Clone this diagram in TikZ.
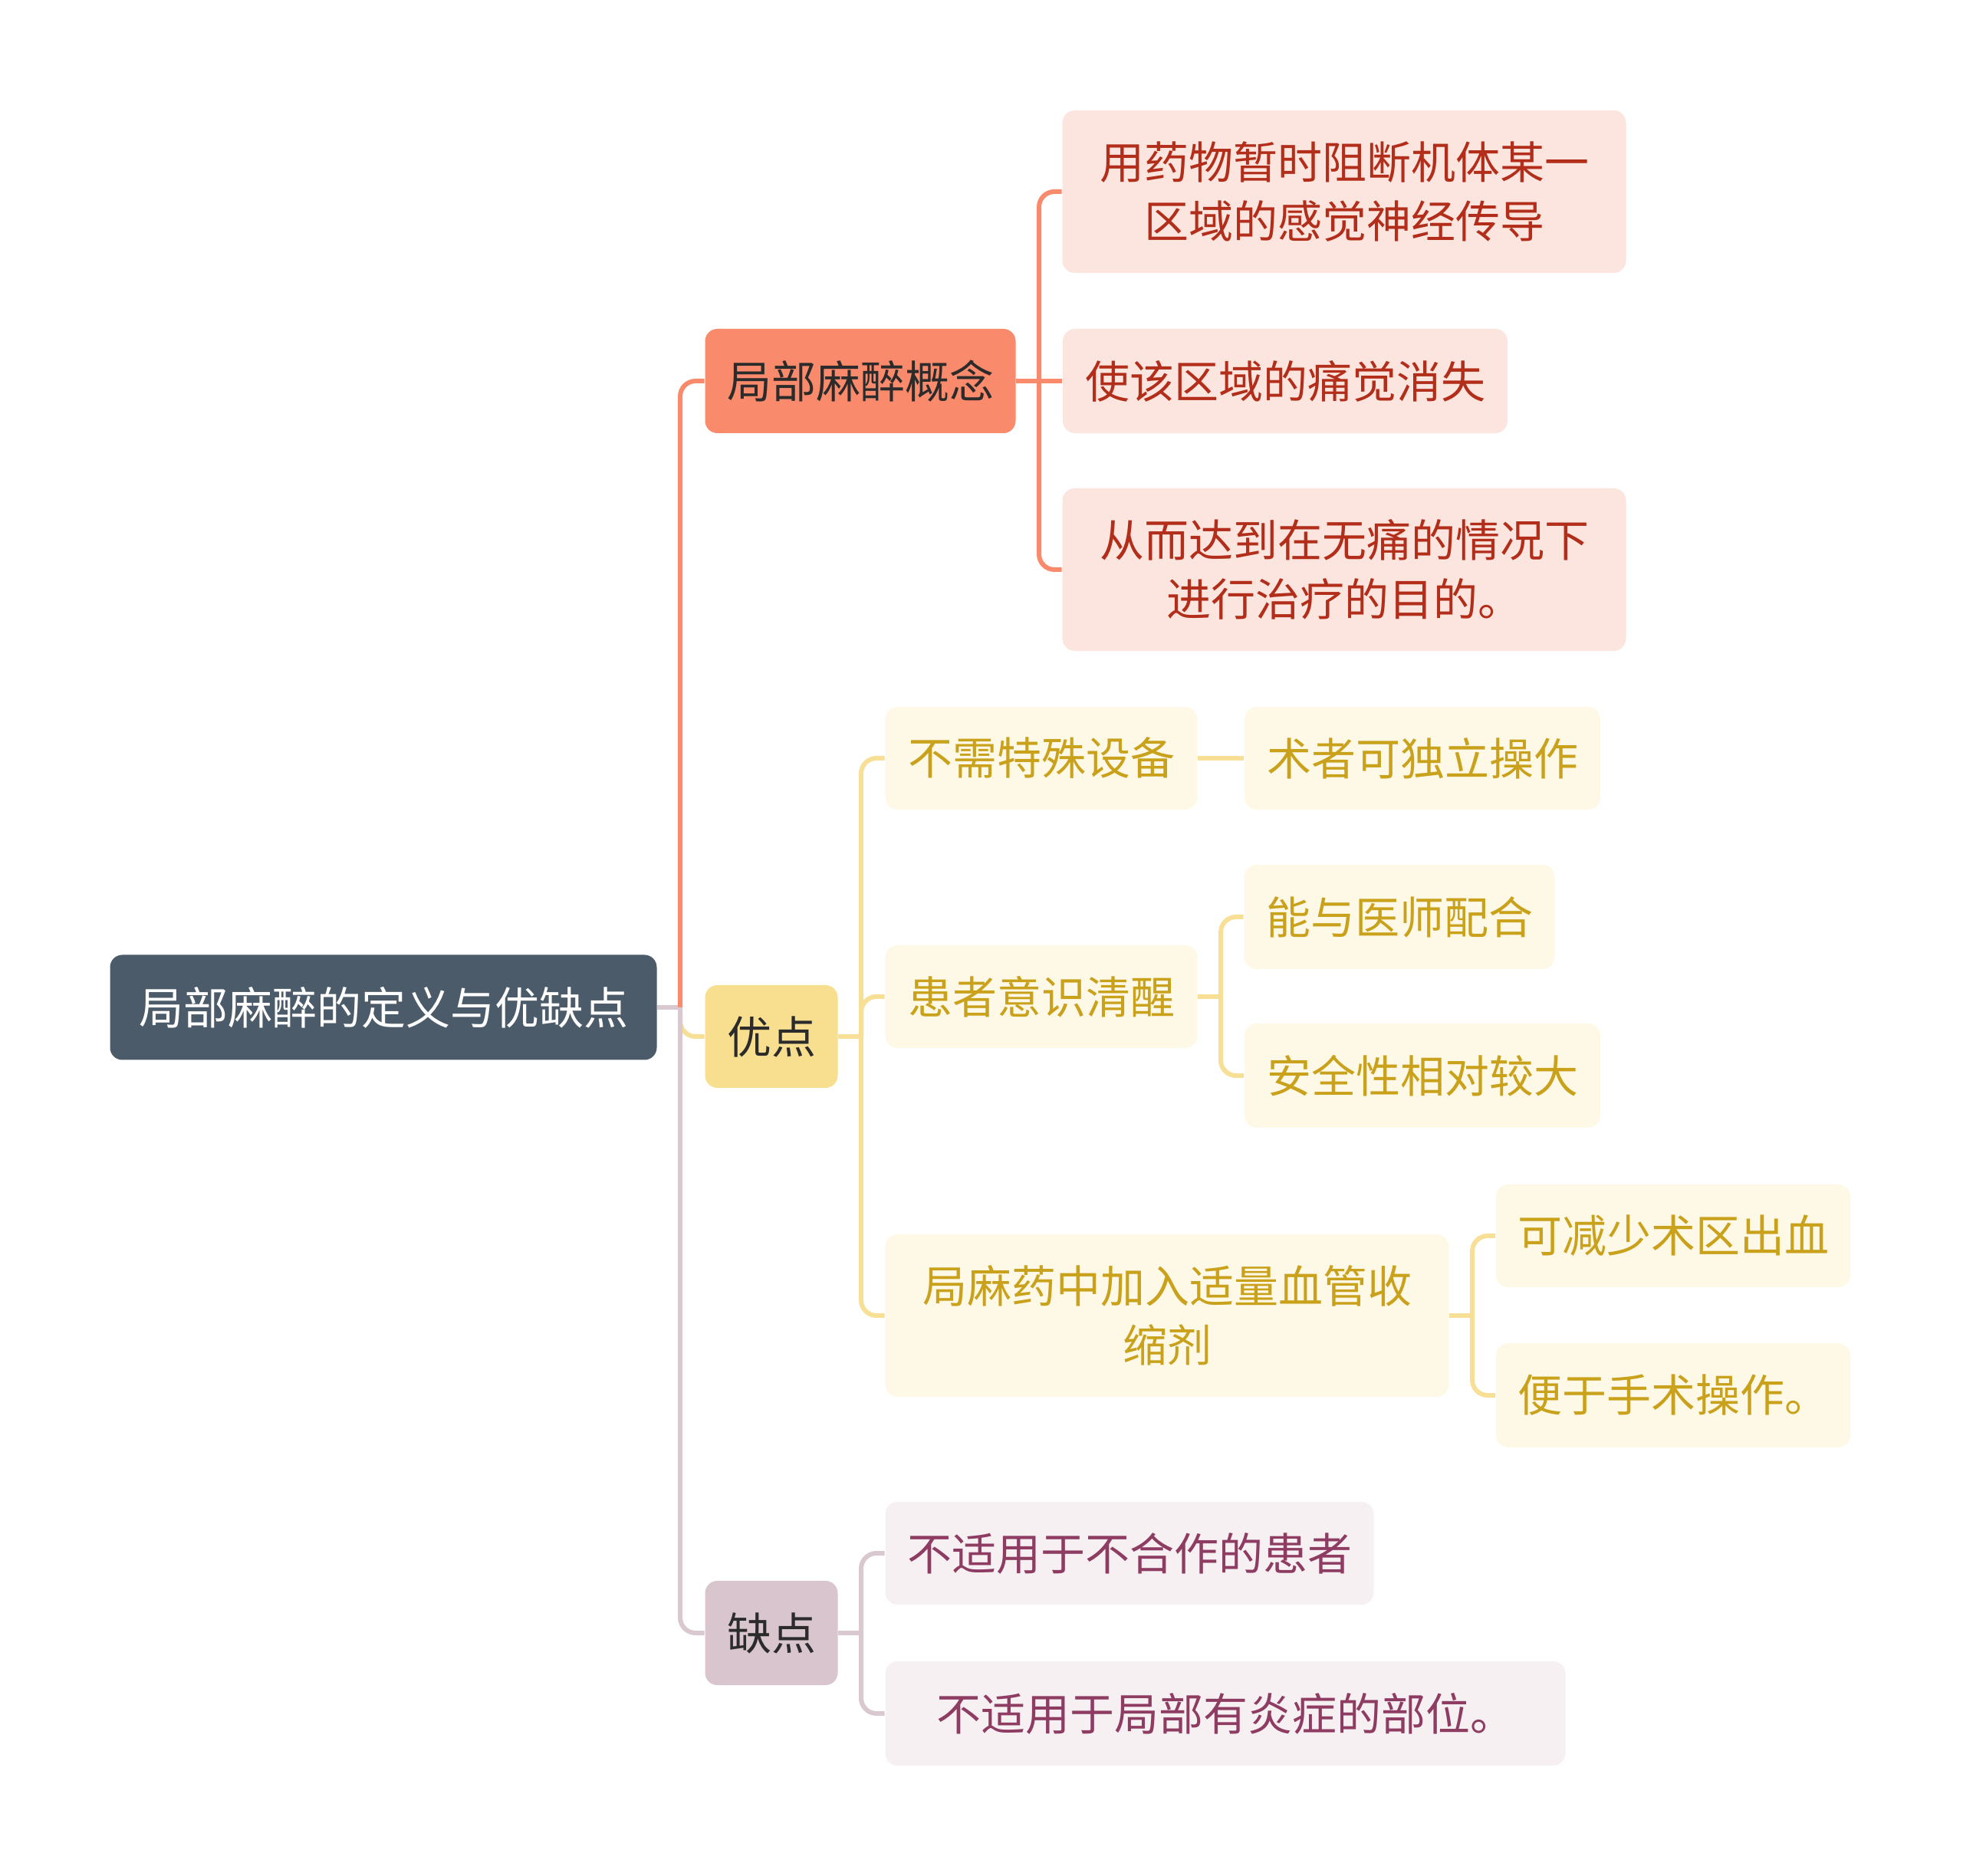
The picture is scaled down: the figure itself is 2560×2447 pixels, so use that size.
\documentclass[tikz,border=0pt]{standalone}
\usepackage{fontspec}
\setmainfont{Noto Sans CJK SC}
\definecolor{rootc}{HTML}{4B5B69}
\definecolor{conc}{HTML}{F98A6B}
\definecolor{conleaf}{HTML}{FDE5DF}
\definecolor{context}{HTML}{B22E1A}
\definecolor{advc}{HTML}{F8DE8F}
\definecolor{advleaf}{HTML}{FEF9E7}
\definecolor{advtext}{HTML}{C9A11B}
\definecolor{advlinec}{HTML}{F7DF95}
\definecolor{disc}{HTML}{D9C5CD}
\definecolor{disleaf}{HTML}{F6F0F2}
\definecolor{distext}{HTML}{8E3C62}
\definecolor{dislinec}{HTML}{D9C8CF}
\definecolor{darktext}{HTML}{2B2B2B}
\tikzset{
  box/.style={inner sep=0pt, rounded corners=4pt, align=center,
    font=\fontsize{14.5pt}{19.2pt}\selectfont},
  rootbox/.style={box, fill=rootc, text=white},
  conbox/.style={box, fill=conc, text=darktext},
  conleafbox/.style={box, fill=conleaf, text=context},
  advbox/.style={box, fill=advc, text=darktext},
  advleafbox/.style={box, fill=advleaf, text=advtext},
  disbox/.style={box, fill=disc, text=darktext},
  disleafbox/.style={box, fill=disleaf, text=distext},
  conline/.style={draw=conc, line width=1.5pt, rounded corners=5pt},
  advline/.style={draw=advlinec, line width=1.5pt, rounded corners=5pt},
  disline/.style={draw=dislinec, line width=1.5pt, rounded corners=5pt},
}
\begin{document}
\begin{tikzpicture}[x=0.25pt,y=-0.25pt]
\useasboundingbox (0,0) rectangle (2560,2447);
% nodes
\node[rootbox, minimum width=178.25pt, minimum height=34.25pt] (root) at (500,1314) {局部麻醉的定义与优缺点};
\node[conbox, minimum width=101.25pt, minimum height=34pt] (con) at (1122,497) {局部麻醉概念};
\node[conleafbox, minimum width=183.75pt, minimum height=53pt] (c1) at (1753,250) {用药物暂时阻断机体某一\\区域的感觉神经传导};
\node[conleafbox, minimum width=145pt, minimum height=34pt] (c2) at (1676,497) {使该区域的痛觉消失};
\node[conleafbox, minimum width=183.75pt, minimum height=53pt] (c3) at (1753,743) {从而达到在无痛的情况下\\进行治疗的目的。};

\node[advbox, minimum width=43.25pt, minimum height=33.5pt] (adv) at (1006,1352) {优点};
\node[advleafbox, minimum width=101.75pt, minimum height=33.5pt] (a1) at (1358,989) {不需特殊设备};
\node[advleafbox, minimum width=116pt, minimum height=33.5pt] (a11) at (1855,989) {术者可独立操作};
\node[advleafbox, minimum width=101.75pt, minimum height=33.5pt] (a2) at (1358,1300) {患者意识清醒};
\node[advleafbox, minimum width=101.25pt, minimum height=34pt] (a21) at (1825,1196) {能与医师配合};
\node[advleafbox, minimum width=116pt, minimum height=34pt] (a22) at (1855,1403) {安全性相对较大};
\node[advleafbox, minimum width=183.75pt, minimum height=53pt] (a3) at (1522,1716) {局麻药中加入适量血管收\\缩剂};
\node[advleafbox, minimum width=115.5pt, minimum height=33.5pt] (a31) at (2182,1612) {可减少术区出血};
\node[advleafbox, minimum width=115.5pt, minimum height=34pt] (a32) at (2182,1820) {便于手术操作。};

\node[disbox, minimum width=43.25pt, minimum height=34pt] (dis) at (1006,2130) {缺点};
\node[disleafbox, minimum width=159.25pt, minimum height=33.5pt] (d1) at (1473,2026) {不适用于不合作的患者};
\node[disleafbox, minimum width=221.75pt, minimum height=34pt] (d2) at (1598,2235) {不适用于局部有炎症的部位。};

% junction coordinates
\coordinate (j0) at (887,1314);
\coordinate (jc) at (1355,497);
\coordinate (ja) at (1123,1352);
\coordinate (ja2) at (1592,1300);
\coordinate (ja3) at (1920,1716);
\coordinate (jd) at (1123,2130);

% connectors
\draw[disline] (root.east) -- (j0);
\draw[conline] (j0) |- (con.west);
\draw[advline] (j0) |- (adv.west);
\draw[disline] (j0) |- (dis.west);

\draw[conline] (con.east) -- (jc);
\draw[conline] (jc) |- (c1.west);
\draw[conline] (jc) -- (c2.west);
\draw[conline] (jc) |- (c3.west);

\draw[advline] (adv.east) -- (ja);
\draw[advline] (ja) |- (a1.west);
\draw[advline] (ja) |- (a2.west);
\draw[advline] (ja) |- (a3.west);
\draw[advline] (a1.east) -- (a11.west);
\draw[advline] (a2.east) -- (ja2);
\draw[advline] (ja2) |- (a21.west);
\draw[advline] (ja2) |- (a22.west);
\draw[advline] (a3.east) -- (ja3);
\draw[advline] (ja3) |- (a31.west);
\draw[advline] (ja3) |- (a32.west);

\draw[disline] (dis.east) -- (jd);
\draw[disline] (jd) |- (d1.west);
\draw[disline] (jd) |- (d2.west);
\end{tikzpicture}
\end{document}
